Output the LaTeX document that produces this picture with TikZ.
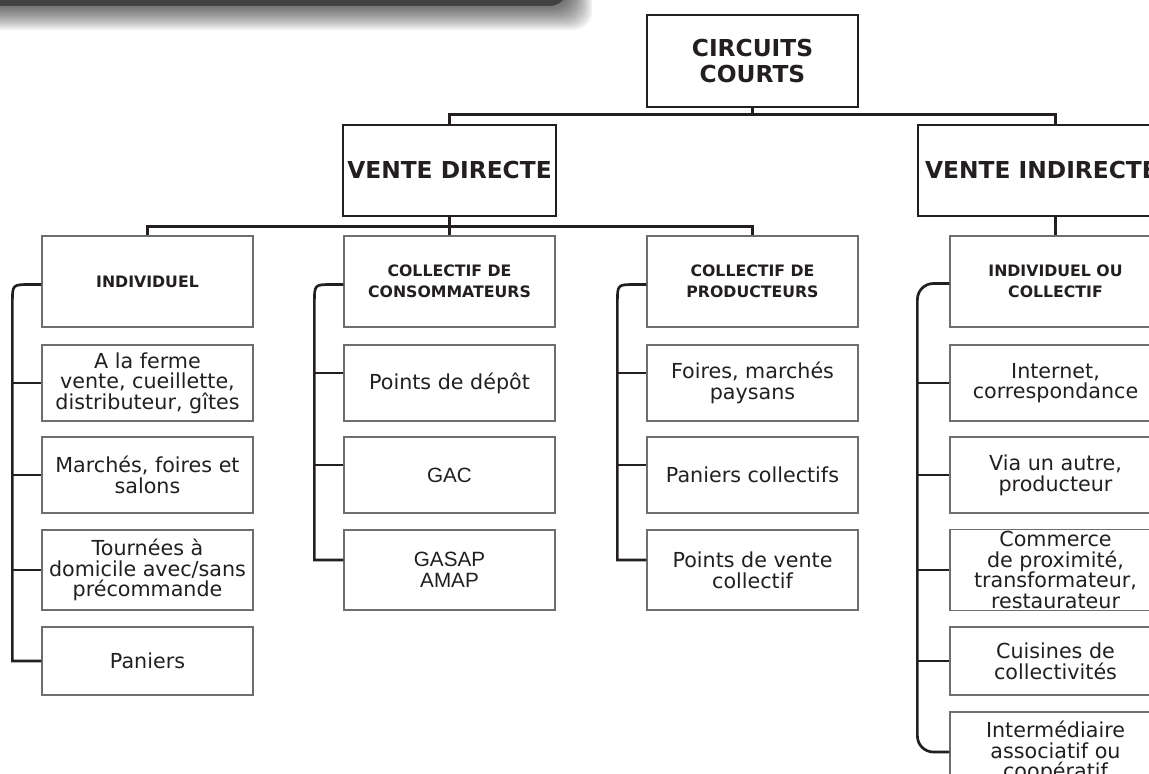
\documentclass[tikz,border=0pt]{standalone}
\usepackage{fontspec}
\setmainfont{DejaVu Sans}
\newfontfamily\gacfont{Liberation Sans}
\usetikzlibrary{calc}
\definecolor{ink}{HTML}{231F20}
\definecolor{band}{HTML}{414042}
\definecolor{frame}{HTML}{6D6E71}
\tikzset{
  title/.style={draw=ink, line width=2pt, text=ink, align=center, inner sep=2pt,
    minimum height=68.25pt, font=\fontsize{17.5}{20}\selectfont\bfseries},
  head/.style={draw=frame, line width=0.9pt, text=ink, align=center,
    minimum width=158.25pt, minimum height=68.25pt, font=\fontsize{11.8}{15.5}\selectfont\bfseries},
  leaf/.style={draw=frame, line width=0.9pt, text=ink, align=center, inner sep=1pt,
    minimum width=158.25pt, font=\fontsize{15.5}{15.5}\selectfont},
  link/.style={draw=ink, line width=2pt},
}
\begin{document}
\begin{tikzpicture}[x=0.75pt,y=-0.75pt]

\path[use as bounding box] (0,0) rectangle (1149,774);
\clip (0,0) rectangle (1149,774);
\fill[white] (0,0) rectangle (1149,774);

\foreach \i in {1,...,12}
  \fill[black, opacity=0.06, rounded corners=14pt] (-30,-40) rectangle ({568+2*\i},{6+2*\i});
\fill[band, rounded corners=14pt] (-30,-40) rectangle (568,6);

\node[title, minimum width=158.25pt, minimum height=69pt] (root) at (752.5,61) {CIRCUITS\\COURTS};
\node[title, minimum width=159.75pt] (vd) at (449.5,170.5) {VENTE DIRECTE};
\node[title, minimum width=185.25pt] (vi) at (1041.5,170.5) {VENTE INDIRECTE};

\node[head] (h1) at (147.5,281.5) {INDIVIDUEL};
\node[head] (h2) at (449.5,281.5) {COLLECTIF DE\\CONSOMMATEURS};
\node[head] (h3) at (752.5,281.5) {COLLECTIF DE\\PRODUCTEURS};
\node[head] (h4) at (1055.5,281.5) {INDIVIDUEL OU\\COLLECTIF};

\foreach \r/\y/\h/\txt in {
  1/383/57pt/{A la ferme\\vente, cueillette,\\distributeur, gîtes},
  2/475/57pt/{Marchés, foires et\\salons},
  3/570/60pt/{Tournées à\\domicile avec/sans\\précommande},
  4/661/51pt/{Paniers}}
  \node[leaf, minimum height=\h] (l1\r) at (147.5,\y) {\txt};

\foreach \r/\y/\h/\txt in {
  1/383/57pt/{Points de dépôt},
  2/475/57pt/{\gacfont GAC},
  3/570/60pt/{\gacfont GASAP\\\gacfont AMAP}}
  \node[leaf, minimum height=\h] (l2\r) at (449.5,\y) {\txt};

\foreach \r/\y/\h/\txt in {
  1/383/57pt/{Foires, marchés\\paysans},
  2/475/57pt/{Paniers collectifs},
  3/570/60pt/{Points de vente\\collectif}}
  \node[leaf, minimum height=\h] (l3\r) at (752.5,\y) {\txt};

\foreach \r/\y/\h/\txt in {
  1/383/57pt/{Internet,\\correspondance},
  2/475/57pt/{Via un autre,\\producteur},
  3/570/60pt/{Commerce\\de proximité,\\transformateur,\\restaurateur},
  4/661/51pt/{Cuisines de\\collectivités},
  5/752/60pt/{Intermédiaire\\associatif ou\\coopératif}}
  \node[leaf, minimum height=\h] (l4\r) at (1055.5,\y) {\txt};

\coordinate (j1) at ($(root.south)+(0,6)$);
\draw[link] (root.south) -- (j1);
\draw[link] (vd.north) |- (j1) -| (h4.north |- vi.north);
\draw[link] (vi.south -| h4.north) -- (h4.north);

\coordinate (j2) at ($(vd.south)!0.5!(h2.north)$);
\draw[link] (vd.south) -- (h2.north);
\draw[link] (h1.north) |- (j2) -| (h3.north);

\foreach \c/\n/\dy in {1/4/0,2/3/-10,3/3/-10}{
  \coordinate (b\c) at ($(h\c.west)+(-29,3)$);
  \draw[link, line join=miter] ($(h\c.west)+(0,3)$) -- ($(b\c)+(18,0)$) .. controls (b\c) .. ($(b\c)+(0,18)$)
    -- ($(b\c |- l\c\n.west)+(0,\dy)$) -- ($(l\c\n.west)+(0,\dy)$);
  \foreach \r in {1,...,\n}
    \draw[link] ($(b\c |- l\c\r.west)+(0,\dy)$) -- ($(l\c\r.west)+(0,\dy)$);
}

\coordinate (b4) at ($(h4.west)+(-32,2)$);
\draw[link, rounded corners=12pt] ($(h4.west)+(0,2)$) -- (b4) -- (b4 |- l45.west) -- (l45.west);
\foreach \r in {1,...,4}
  \draw[link] (b4 |- l4\r.west) -- (l4\r.west);

\end{tikzpicture}
\end{document}
